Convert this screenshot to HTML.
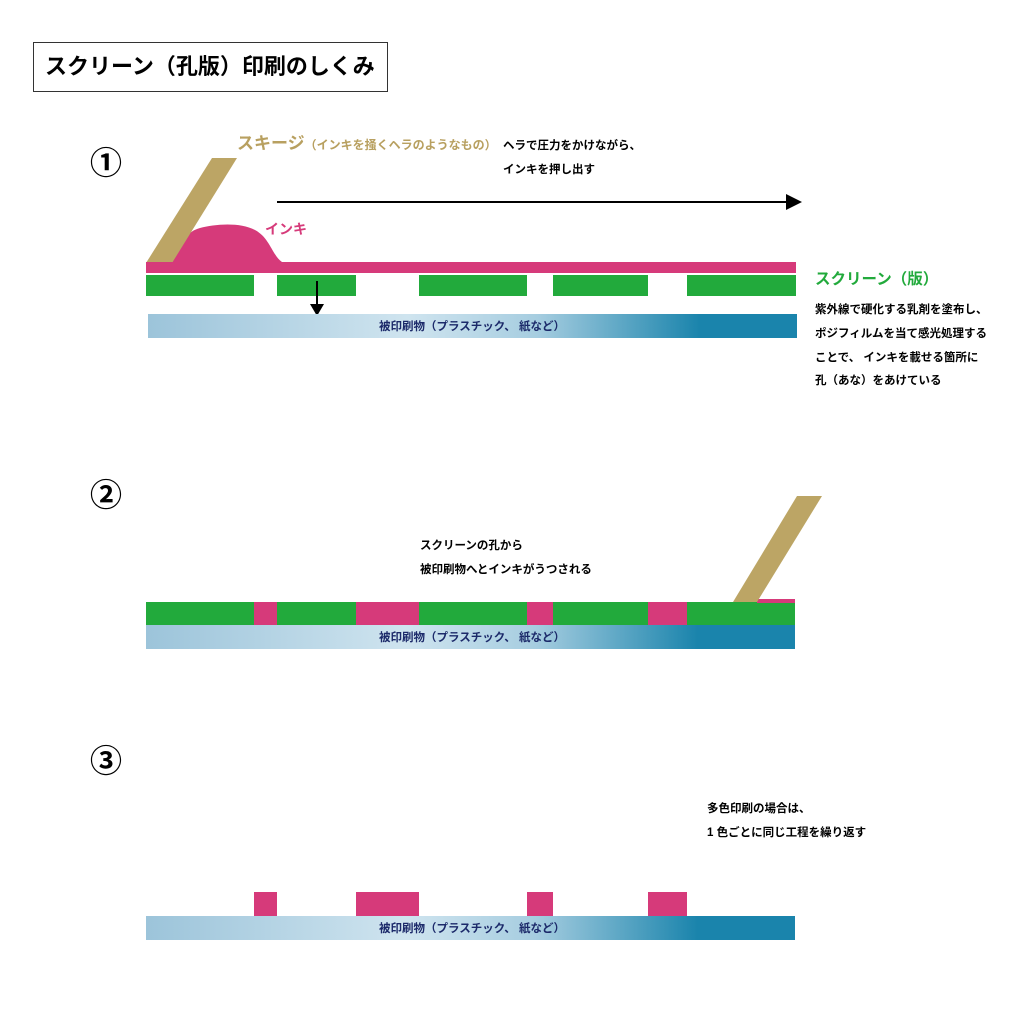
<!DOCTYPE html>
<html><head><meta charset="utf-8"><style>
body{margin:0;background:#fff}
svg text{font-family:"Liberation Sans","Noto Sans CJK JP",sans-serif;font-weight:bold}
</style></head><body>
<svg width="1024" height="1024" viewBox="0 0 1024 1024" xmlns="http://www.w3.org/2000/svg">
<defs>
<linearGradient id="g" x1="0" y1="0" x2="1" y2="0">
<stop offset="0" stop-color="#9cc4da"/><stop offset="0.4" stop-color="#cfe4ef"/><stop offset="0.6" stop-color="#a6cde0"/><stop offset="0.85" stop-color="#1a84ac"/><stop offset="1" stop-color="#1a84ac"/>
</linearGradient>
</defs>
<rect x="33.5" y="42.5" width="354" height="49" fill="#fff" stroke="#333"/>
<text x="45" y="74" font-size="22" fill="#000">スクリーン（孔版）印刷のしくみ</text>

<text x="90" y="174" font-size="32" fill="#000">①</text>
<text x="90" y="506" font-size="32" fill="#000">②</text>
<text x="90" y="772" font-size="32" fill="#000">③</text>

<!-- step 1 -->
<text x="237" y="149" font-size="17" fill="#b8a060">スキージ<tspan font-size="12">（インキを掻くヘラのようなもの）</tspan></text>
<text x="503" y="149" font-size="11.5" fill="#000">ヘラで圧力をかけながら、</text>
<text x="503" y="173" font-size="11.5" fill="#000">インキを押し出す</text>
<line x1="277" y1="202" x2="788" y2="202" stroke="#000" stroke-width="2"/>
<polygon points="786,194 802,202 786,210" fill="#000"/>
<path d="M172,263 C180,245 185,232 200,228 C215,224 240,222 255,230 C270,238 272,255 282,262 Z" fill="#d63a7a"/>
<polygon points="212,158 237,158 172,263 146,263" fill="#bca565"/>
<text x="265" y="234" font-size="14" fill="#d63a7a">インキ</text>
<rect x="146" y="262" width="650" height="11" fill="#d63a7a"/>
<g fill="#22aa3c">
<rect x="146" y="275" width="108" height="21"/><rect x="277" y="275" width="79" height="21"/>
<rect x="419" y="275" width="108" height="21"/><rect x="553" y="275" width="95" height="21"/>
<rect x="687" y="275" width="109" height="21"/></g>
<line x1="317" y1="281" x2="317" y2="306" stroke="#000" stroke-width="2"/>
<polygon points="310,304 324,304 317,316" fill="#000"/>
<rect x="148" y="314" width="649" height="24" fill="url(#g)"/>
<text x="472" y="330" font-size="11.5" fill="#1c2a6a" text-anchor="middle">被印刷物（プラスチック、 紙など）</text>
<text x="815" y="284" font-size="15.5" fill="#22aa3c">スクリーン（版）</text>
<g font-size="11.5" fill="#000">
<text x="815" y="313">紫外線で硬化する乳剤を塗布し、</text>
<text x="815" y="337">ポジフィルムを当て感光処理する</text>
<text x="815" y="361">ことで、 インキを載せる箇所に</text>
<text x="815" y="384">孔（あな）をあけている</text>
</g>

<!-- step 2 -->
<text x="420" y="549" font-size="11.5" fill="#000">スクリーンの孔から</text>
<text x="420" y="573" font-size="11.5" fill="#000">被印刷物へとインキがうつされる</text>
<rect x="146" y="602" width="649" height="23" fill="#22aa3c"/>
<g fill="#d63a7a">
<rect x="254" y="602" width="23" height="23"/><rect x="356" y="602" width="63" height="23"/>
<rect x="527" y="602" width="26" height="23"/><rect x="648" y="602" width="39" height="23"/>
<rect x="757" y="599" width="38" height="4"/></g>
<polygon points="797,496 822,496 757,602 733,602" fill="#bca565"/>
<rect x="146" y="625" width="649" height="24" fill="url(#g)"/>
<text x="472" y="641" font-size="11.5" fill="#1c2a6a" text-anchor="middle">被印刷物（プラスチック、 紙など）</text>

<!-- step 3 -->
<text x="707" y="812" font-size="11.5" fill="#000">多色印刷の場合は、</text>
<text x="707" y="836" font-size="11.5" fill="#000">1 色ごとに同じ工程を繰り返す</text>
<g fill="#d63a7a">
<rect x="254" y="892" width="23" height="24"/><rect x="356" y="892" width="63" height="24"/>
<rect x="527" y="892" width="26" height="24"/><rect x="648" y="892" width="39" height="24"/></g>
<rect x="146" y="916" width="649" height="24" fill="url(#g)"/>
<text x="472" y="932" font-size="11.5" fill="#1c2a6a" text-anchor="middle">被印刷物（プラスチック、 紙など）</text>
</svg>
</body></html>
